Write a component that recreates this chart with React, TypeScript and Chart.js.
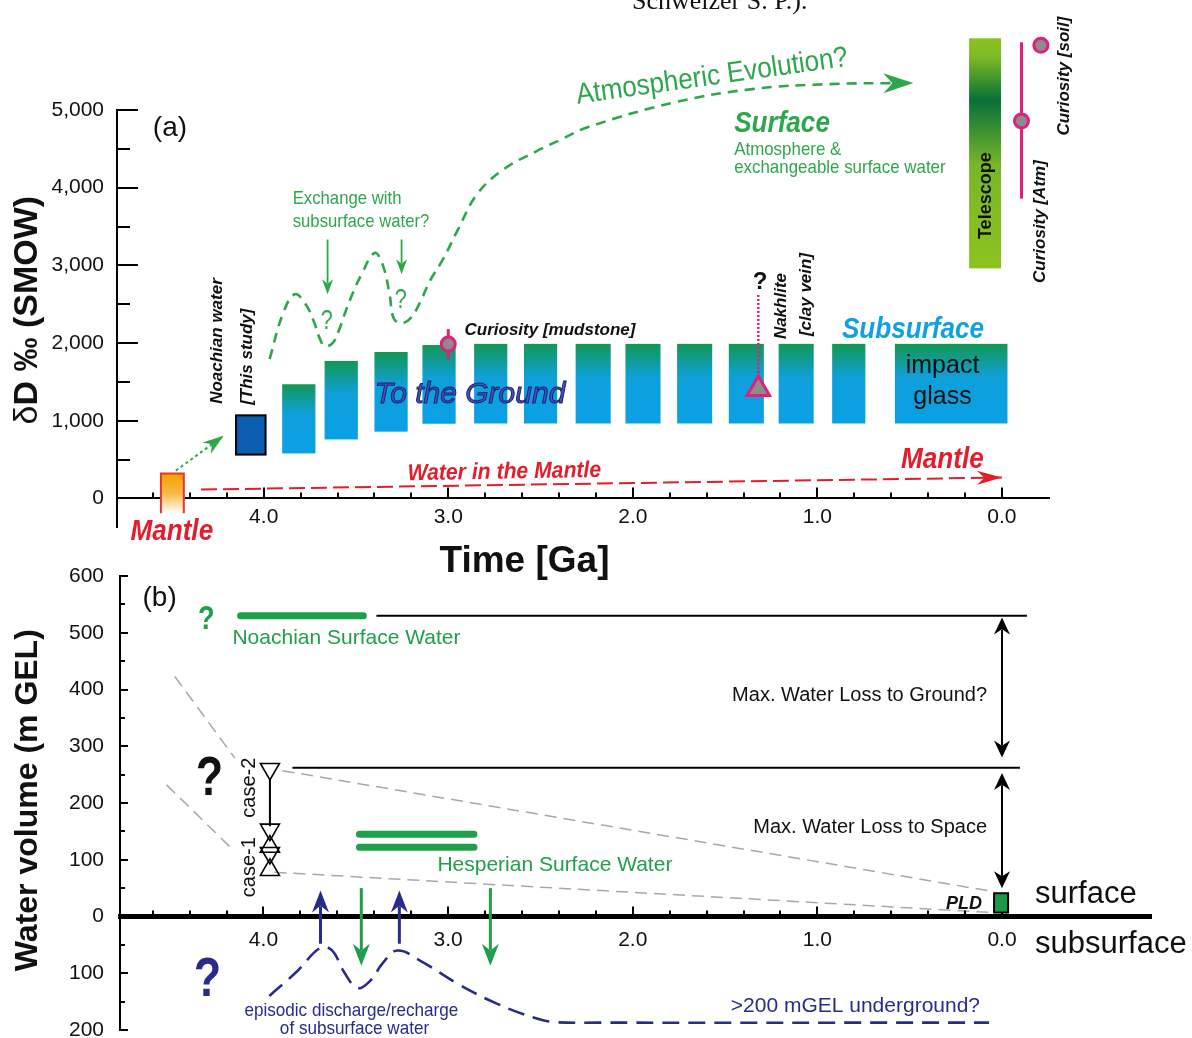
import React, { useEffect, useRef } from "react";
import { Chart, registerables } from "chart.js";

Chart.register(...registerables);

const SANS = "'Liberation Sans', Arial, Helvetica, sans-serif";
const SERIF = "'Liberation Serif', 'Times New Roman', serif";
const fnt = (size: number, weight: string = "normal", style: string = "normal", family: string = SANS) =>
  `${style} ${weight} ${size}px ${family}`;

const CANVAS_W = 1192;
const CANVAS_H = 1100;

const INK = "#111111";
const GREEN_A = "#2ea74c";
const GREEN_B = "#1f9f4a";
const RED = "#e31d2b";
const MAGENTA = "#e0207c";
const GREY_FILL = "#8c8c8c";
const NAVY = "#292b8c";
const SKY = "#12a1e0";
const DASH_GREY = "#a8a8a8";

/* ================= Panel (a): δD (‰ SMOW) versus Time (Ga) ================= */
const aXTicks = [4, 3, 2, 1, 0];
const aYTicks = [0, 1000, 2000, 3000, 4000, 5000];

// Atmospheric evolution (dashed green curve)
const atmEvolGa = [3.968, 3.897, 3.832, 3.773, 3.729, 3.697, 3.67, 3.627, 3.594, 3.556, 3.513, 3.47, 3.4, 3.356, 3.318, 3.296, 3.253, 3.204, 3.15, 3.101, 3.026, 2.945, 2.842, 2.696, 2.528, 2.382, 2.241, 1.765, 1.353, 0.936, 0.48];
const atmEvolDD = [1795, 2372, 2628, 2500, 2282, 2064, 1962, 2000, 2154, 2410, 2667, 2885, 3160, 3013, 2628, 2321, 2256, 2321, 2538, 2795, 3090, 3474, 3923, 4244, 4462, 4628, 4782, 5103, 5269, 5333, 5348];

// Water in the mantle (red dashed arrow)
const mantleWaterGa = [4.34, 0.0];
const mantleWaterDD = [115, 270];

// Subsurface water reservoirs (bars)
const subFromGa = [3.9, 3.67, 3.4, 3.14, 2.86, 2.59, 2.31, 2.04, 1.76, 1.48, 1.21, 0.92, 0.58];
const subToGa = [3.72, 3.49, 3.22, 2.96, 2.68, 2.41, 2.12, 1.85, 1.57, 1.29, 1.02, 0.74, -0.03];
const subTopDD = [1470, 1770, 1885, 1975, 1990, 1990, 1990, 1990, 1990, 1990, 1990, 1990, 1990];
const subBotDD = [580, 760, 860, 962, 965, 965, 965, 965, 965, 965, 965, 965, 965];

// Mantle source, Noachian water (this study), Telescope range
const mantleBoxGa = [4.557, 4.433];
const mantleBoxDD = [-190, 320];
const noachBoxGa = [4.15, 3.99];
const noachBoxDD = [565, 1070];
const telescopeGa = [0.178, 0.005];
const telescopeDD = [2962, 5923];

// Point measurements
const mudstoneGa = 3.0;
const mudstoneDD = 1987;
const mudstoneErrDD = [1795, 2180];
const nakhliteGa = 1.32;
const nakhliteDD = 1410;
const nakhliteUpperDD = 2640;
const curAtmGa = -0.106;
const curAtmDD = 4859;
const curAtmRangeDD = [3859, 5872];
const curSoilGa = -0.211;
const curSoilDD = 5833;

// Arrows
const transferGa = [4.476, 4.217];
const transferDD = [359, 808];
const exchangeGa = [3.654, 3.253];
const exchangeFromDD = [3333, 3333];
const exchangeToDD = [2628, 2885];

/* ================= Panel (b): Water volume (m GEL) versus Time (Ga) ================= */
const bXTicks = [4, 3, 2, 1, 0];
const bYTicks = [-200, -100, 0, 100, 200, 300, 400, 500, 600];

const subsurfGa = [3.968, 3.816, 3.691, 3.627, 3.567, 3.491, 3.421, 3.356, 3.275, 3.15, 2.945, 2.733, 2.528, 2.425, 2.2, 0.07];
const subsurfV = [-140, -96, -55, -60, -96, -126, -113, -83, -60, -78, -119, -154, -179, -186, -187, -187];

const noachSurfGa = [4.124, 3.459];
const noachSurfV = 530;
const hespSurfGa = [3.48, 2.86];
const hespSurfV = [145, 122];

const lossGroundGa = [3.388, -0.135];
const lossGroundV = 530;
const lossSpaceGa = [3.843, -0.097];
const lossSpaceV = 262;

const trendHiOldGa = [4.48, 4.155];
const trendHiOldV = [423, 279];
const trendHiGa = [3.897, 0.049];
const trendHiV = [257, 44];
const trendLoOldGa = [4.525, 4.157];
const trendLoOldV = [232, 115];
const trendLoGa = [3.94, 0.054];
const trendLoV = [78, 7];

const caseGa = 3.965;
const caseLinkV = [241, 159];
const caseDownV = [260, 153, 112];
const caseUpV = [123, 82];

const dischargeGa = [3.691, 3.264];
const dischargeFromV = -48;
const dischargeToV = 46;
const rechargeGa = [3.47, 2.771];
const rechargeFromV = 50;
const rechargeToV = -87;

const maxLossGa = 0.0;
const groundArrowV = [527, 280];
const spaceArrowV = [253, 50];

const pldGa = [0.043, -0.033];
const pldV = [7, 41];

/* ================= helpers ================= */
const pts = (gs: number[], vs: number[]) => gs.map((g, i) => ({ x: g, y: vs[i] }));
const flat = (gs: number[], v: number) => gs.map((g) => ({ x: g, y: v }));
const vert = (g: number, vs: number[]) => vs.map((v) => ({ x: g, y: v }));

type Lbl = {
  t: string; g: number; v: number; font: string; color?: string;
  align?: CanvasTextAlign; base?: CanvasTextBaseline; rot?: number; sx?: number; outline?: string;
};

function drawLabel(ctx: CanvasRenderingContext2D, xs: any, ys: any, l: Lbl) {
  ctx.save();
  ctx.translate(xs.getPixelForValue(l.g), ys.getPixelForValue(l.v));
  if (l.rot) ctx.rotate((l.rot * Math.PI) / 180);
  if (l.sx) ctx.scale(l.sx, 1);
  ctx.font = l.font;
  ctx.fillStyle = l.color || INK;
  ctx.textAlign = l.align || "left";
  ctx.textBaseline = l.base || "alphabetic";
  ctx.fillText(l.t, 0, 0);
  if (l.outline) {
    ctx.strokeStyle = l.outline;
    ctx.lineWidth = 1;
    ctx.strokeText(l.t, 0, 0);
  }
  ctx.restore();
}

function arrowHead(ctx: CanvasRenderingContext2D, tx: number, ty: number, fx: number, fy: number, len: number, wid: number, color: string) {
  const a = Math.atan2(ty - fy, tx - fx);
  ctx.save();
  ctx.translate(tx, ty);
  ctx.rotate(a);
  ctx.beginPath();
  ctx.moveTo(0, 0);
  ctx.lineTo(-len, -wid / 2);
  ctx.lineTo(-len * 0.7, 0);
  ctx.lineTo(-len, wid / 2);
  ctx.closePath();
  ctx.fillStyle = color;
  ctx.fill();
  ctx.restore();
}

function arrowLine(ctx: CanvasRenderingContext2D, x0: number, y0: number, x1: number, y1: number, color: string, width: number, len: number, wid: number, both = false) {
  const a = Math.atan2(y1 - y0, x1 - x0);
  const inset = len * 0.72;
  const sx = both ? x0 + Math.cos(a) * inset : x0;
  const sy = both ? y0 + Math.sin(a) * inset : y0;
  const ex = x1 - Math.cos(a) * inset;
  const ey = y1 - Math.sin(a) * inset;
  ctx.save();
  ctx.strokeStyle = color;
  ctx.lineWidth = width;
  ctx.setLineDash([]);
  ctx.beginPath();
  ctx.moveTo(sx, sy);
  ctx.lineTo(ex, ey);
  ctx.stroke();
  ctx.restore();
  arrowHead(ctx, x1, y1, x0, y0, len, wid, color);
  if (both) arrowHead(ctx, x0, y0, x1, y1, len, wid, color);
}

function seg(ctx: CanvasRenderingContext2D, x0: number, y0: number, x1: number, y1: number) {
  ctx.beginPath();
  ctx.moveTo(x0, y0);
  ctx.lineTo(x1, y1);
  ctx.stroke();
}

/* ================= annotation text ================= */
const labelsA: Lbl[] = [
  { t: "(a)", g: 4.601, v: 4667, font: fnt(28) },
  { t: "Exchange with", g: 3.843, v: 3795, font: fnt(19), color: GREEN_A, sx: 0.88 },
  { t: "subsurface water?", g: 3.843, v: 3490, font: fnt(19), color: GREEN_A, sx: 0.88 },
  { t: "?", g: 3.659, v: 2179, font: fnt(27), color: GREEN_A, align: "center", sx: 0.8 },
  { t: "?", g: 3.258, v: 2449, font: fnt(27), color: GREEN_A, align: "center", sx: 0.8 },
  { t: "Atmospheric Evolution?", g: 2.3, v: 5080, font: fnt(29), color: GREEN_A, rot: -8, sx: 0.9 },
  { t: "Surface", g: 1.451, v: 4718, font: fnt(29, "bold", "italic"), color: GREEN_A, sx: 0.9 },
  { t: "Atmosphere &", g: 1.451, v: 4423, font: fnt(19), color: GREEN_A, sx: 0.89 },
  { t: "exchangeable surface water", g: 1.451, v: 4192, font: fnt(19), color: GREEN_A, sx: 0.89 },
  { t: "Telescope", g: 0.087, v: 3897, font: fnt(18, "bold"), align: "center", base: "middle", rot: -90 },
  { t: "Curiosity [Atm]", g: -0.208, v: 3564, font: fnt(17, "bold", "italic"), align: "center", base: "middle", rot: -90 },
  { t: "Curiosity [soil]", g: -0.336, v: 5436, font: fnt(17, "bold", "italic"), align: "center", base: "middle", rot: -90 },
  { t: "Noachian water", g: 4.254, v: 1218, font: fnt(17, "bold", "italic"), align: "left", base: "middle", rot: -90 },
  { t: "[This study]", g: 4.087, v: 1205, font: fnt(17, "bold", "italic"), align: "left", base: "middle", rot: -90 },
  { t: "Curiosity [mudstone]", g: 2.912, v: 2103, font: fnt(17, "bold", "italic") },
  { t: "?", g: 1.31, v: 2692, font: fnt(24, "bold"), align: "center" },
  { t: "Nakhlite", g: 1.193, v: 2051, font: fnt(17, "bold", "italic"), align: "left", base: "middle", rot: -90 },
  { t: "[clay vein]", g: 1.058, v: 2090, font: fnt(17, "bold", "italic"), align: "left", base: "middle", rot: -90 },
  { t: "Subsurface", g: 0.482, v: 2064, font: fnt(29, "bold", "italic"), color: SKY, align: "center", sx: 0.9 },
  { t: "impact", g: 0.322, v: 1615, font: fnt(25), align: "center" },
  { t: "glass", g: 0.322, v: 1218, font: fnt(25), align: "center" },
  { t: "To the Ground", g: 3.399, v: 1231, font: fnt(30, "normal", "italic"), color: "#4253bd", outline: "#1b2170" },
  { t: "Water in the Mantle", g: 3.22, v: 235, font: fnt(23, "bold", "italic"), color: RED, sx: 0.92, rot: -1 },
  { t: "Mantle", g: 0.547, v: 397, font: fnt(29, "bold", "italic"), color: RED, sx: 0.9 },
  { t: "Mantle", g: 4.498, v: -538, font: fnt(29, "bold", "italic"), color: RED, align: "center", sx: 0.9 },
  { t: "Time [Ga]", g: 2.587, v: -949, font: fnt(37, "bold"), align: "center" },
];

const labelsB: Lbl[] = [
  { t: "(b)", g: 4.655, v: 547, font: fnt(28) },
  { t: "?", g: 4.309, v: 506, font: fnt(34, "bold"), color: GREEN_B, align: "center", sx: 0.8 },
  { t: "Noachian Surface Water", g: 4.168, v: 481, font: fnt(21), color: GREEN_B },
  { t: "Hesperian Surface Water", g: 3.058, v: 80, font: fnt(21), color: GREEN_B },
  { t: "Max. Water Loss to Ground?", g: 0.081, v: 380, font: fnt(20), align: "right" },
  { t: "Max. Water Loss to Space", g: 0.081, v: 147, font: fnt(20), align: "right" },
  { t: "?", g: 4.292, v: 214, font: fnt(56, "bold"), align: "center", sx: 0.8 },
  { t: "?", g: 4.303, v: -140, font: fnt(56, "bold"), color: NAVY, align: "center", sx: 0.8 },
  { t: "case-2", g: 4.076, v: 227, font: fnt(20), align: "center", base: "middle", rot: -90 },
  { t: "case-1", g: 4.076, v: 87, font: fnt(20), align: "center", base: "middle", rot: -90 },
  { t: "episodic discharge/recharge", g: 3.524, v: -175, font: fnt(19), color: NAVY, align: "center", sx: 0.9 },
  { t: "of subsurface water", g: 3.507, v: -207, font: fnt(19), color: NAVY, align: "center", sx: 0.9 },
  { t: ">200 mGEL underground?", g: 0.119, v: -168, font: fnt(21), color: NAVY, align: "right" },
  { t: "PLD", g: 0.108, v: 14, font: fnt(18, "bold", "italic"), align: "right" },
  { t: "surface", g: -0.179, v: 23, font: fnt(31) },
  { t: "subsurface", g: -0.179, v: -65, font: fnt(31) },
];

/* ================= plugins ================= */
const panelAPlugin = {
  id: "panelA",
  beforeDatasetsDraw(chart: any) {
    const ctx: CanvasRenderingContext2D = chart.ctx;
    const xs = chart.scales.x;
    const ys = chart.scales.y;
    const X = (g: number) => xs.getPixelForValue(g);
    const Y = (v: number) => ys.getPixelForValue(v);
    const area = chart.chartArea;
    ctx.save();
    // y axis line (from 5,000 down to the bottom of the plot)
    ctx.strokeStyle = "#000";
    ctx.lineWidth = 2;
    seg(ctx, area.left, Y(aYTicks[aYTicks.length - 1]) - 1, area.left, area.bottom);
    // subsurface reservoirs
    for (let i = 0; i < subFromGa.length; i++) {
      const x0 = X(subFromGa[i]);
      const x1 = X(subToGa[i]);
      const y0 = Y(subTopDD[i]);
      const y1 = Y(subBotDD[i]);
      const gr = ctx.createLinearGradient(0, y0, 0, y1);
      gr.addColorStop(0, "#139752");
      gr.addColorStop(0.42, "#0fa0da");
      gr.addColorStop(1, "#0aa0e6");
      ctx.fillStyle = gr;
      ctx.fillRect(x0, y0, x1 - x0, y1 - y0);
    }
    // mantle source box
    {
      const x0 = X(mantleBoxGa[0]);
      const x1 = X(mantleBoxGa[1]);
      const y0 = Y(mantleBoxDD[1]);
      const y1 = Y(mantleBoxDD[0]);
      const gr = ctx.createLinearGradient(0, y0, 0, y1);
      gr.addColorStop(0, "#f5a200");
      gr.addColorStop(0.5, "#f7b846");
      gr.addColorStop(1, "#ffffff");
      ctx.fillStyle = gr;
      ctx.fillRect(x0, y0, x1 - x0, y1 - y0);
      ctx.strokeStyle = "#e2382a";
      ctx.lineWidth = 2;
      ctx.beginPath();
      ctx.moveTo(x0, y1);
      ctx.lineTo(x0, y0);
      ctx.lineTo(x1, y0);
      ctx.lineTo(x1, y1);
      ctx.stroke();
    }
    // Noachian water box
    {
      const x0 = X(noachBoxGa[0]);
      const x1 = X(noachBoxGa[1]);
      const y0 = Y(noachBoxDD[1]);
      const y1 = Y(noachBoxDD[0]);
      ctx.fillStyle = "#0b5eb0";
      ctx.fillRect(x0, y0, x1 - x0, y1 - y0);
      ctx.strokeStyle = "#000";
      ctx.lineWidth = 2;
      ctx.strokeRect(x0, y0, x1 - x0, y1 - y0);
    }
    // Telescope
    {
      const x0 = X(telescopeGa[0]);
      const x1 = X(telescopeGa[1]);
      const y0 = Y(telescopeDD[1]);
      const y1 = Y(telescopeDD[0]);
      const gr = ctx.createLinearGradient(0, y0, 0, y1);
      gr.addColorStop(0, "#8dc21f");
      gr.addColorStop(0.08, "#7eba24");
      gr.addColorStop(0.27, "#07703a");
      gr.addColorStop(0.55, "#78b62a");
      gr.addColorStop(1, "#8dc21f");
      ctx.fillStyle = gr;
      ctx.fillRect(x0, y0, x1 - x0, y1 - y0);
    }
    ctx.restore();
  },
  afterDatasetsDraw(chart: any) {
    const ctx: CanvasRenderingContext2D = chart.ctx;
    const area = chart.chartArea;
    const xs = chart.scales.x;
    const ys = chart.scales.y;
    const X = (g: number) => xs.getPixelForValue(g);
    const Y = (v: number) => ys.getPixelForValue(v);
    ctx.save();
    // inward tick marks
    ctx.strokeStyle = "#000";
    ctx.lineWidth = 2;
    for (let k = 0; k <= 10; k++) {
      const py = Math.round(Y(k * 500));
      seg(ctx, area.left, py, area.left + (k % 2 === 0 ? 21 : 13), py);
    }
    const y0 = Y(0);
    for (let k = 0; k <= 23; k++) {
      const px = Math.round(X(k * 0.2));
      seg(ctx, px, y0, px, y0 - (k % 5 === 0 ? 11 : 6));
    }
    // arrows
    for (let i = 0; i < exchangeGa.length; i++) {
      arrowLine(ctx, X(exchangeGa[i]), Y(exchangeFromDD[i]), X(exchangeGa[i]), Y(exchangeToDD[i]), GREEN_A, 1.8, 15, 11);
    }
    arrowHead(ctx, X(transferGa[1]), Y(transferDD[1]), X(transferGa[0]), Y(transferDD[0]), 21, 14, GREEN_A);
    const n = atmEvolGa.length;
    arrowHead(ctx, X(atmEvolGa[n - 1]), Y(atmEvolDD[n - 1]), X(atmEvolGa[n - 2]), Y(atmEvolDD[n - 2]), 30, 20, GREEN_A);
    arrowHead(ctx, X(mantleWaterGa[1]), Y(mantleWaterDD[1]), X(mantleWaterGa[0]), Y(mantleWaterDD[0]), 25, 14, RED);
    // labels
    for (const l of labelsA) drawLabel(ctx, xs, ys, l);
    // y axis title
    ctx.save();
    ctx.translate(area.left - 89, Y(2423));
    ctx.rotate(-Math.PI / 2);
    ctx.textBaseline = "middle";
    ctx.textAlign = "left";
    ctx.fillStyle = INK;
    ctx.font = fnt(34);
    const w1 = ctx.measureText("δ").width;
    ctx.font = fnt(34, "bold");
    const w2 = ctx.measureText("D ‰ (SMOW)").width;
    const st = -(w1 + w2) / 2;
    ctx.font = fnt(34);
    ctx.fillText("δ", st, 0);
    ctx.font = fnt(34, "bold");
    ctx.fillText("D ‰ (SMOW)", st + w1, 0);
    ctx.restore();
    // cut-off caption at the very top of the page
    ctx.font = fnt(26, "normal", "normal", SERIF);
    ctx.fillStyle = INK;
    ctx.textAlign = "left";
    ctx.textBaseline = "alphabetic";
    ctx.fillText("Schweizer S. P.).", 632, 9);
    ctx.restore();
  },
};

const panelBPlugin = {
  id: "panelB",
  afterDatasetsDraw(chart: any) {
    const ctx: CanvasRenderingContext2D = chart.ctx;
    const area = chart.chartArea;
    const xs = chart.scales.x;
    const ys = chart.scales.y;
    const X = (g: number) => xs.getPixelForValue(g);
    const Y = (v: number) => ys.getPixelForValue(v);
    ctx.save();
    ctx.strokeStyle = "#000";
    ctx.lineWidth = 2;
    for (let k = 0; k <= 16; k++) {
      const v = -200 + k * 50;
      const py = Math.round(Y(v));
      seg(ctx, area.left, py, area.left + (v % 100 === 0 ? 8 : 5), py);
    }
    const y0 = Y(0);
    for (let k = 0; k <= 23; k++) {
      const px = Math.round(X(k * 0.2));
      seg(ctx, px, y0, px, y0 - (k % 5 === 0 ? 10 : 6));
    }
    // discharge / recharge arrows
    for (const g of dischargeGa) arrowLine(ctx, X(g), Y(dischargeFromV), X(g), Y(dischargeToV), NAVY, 3, 22, 17);
    for (const g of rechargeGa) arrowLine(ctx, X(g), Y(rechargeFromV), X(g), Y(rechargeToV), GREEN_B, 3, 22, 17);
    // max loss double arrows
    arrowLine(ctx, X(maxLossGa), Y(groundArrowV[0]), X(maxLossGa), Y(groundArrowV[1]), "#000", 2, 17, 16, true);
    arrowLine(ctx, X(maxLossGa), Y(spaceArrowV[0]), X(maxLossGa), Y(spaceArrowV[1]), "#000", 2, 17, 16, true);
    // PLD box
    {
      const x0 = X(pldGa[0]);
      const x1 = X(pldGa[1]);
      const yt = Y(pldV[1]);
      const yb = Y(pldV[0]);
      ctx.fillStyle = "#1a9a45";
      ctx.fillRect(x0, yt, x1 - x0, yb - yt);
      ctx.strokeStyle = "#000";
      ctx.lineWidth = 2;
      ctx.strokeRect(x0, yt, x1 - x0, yb - yt);
    }
    for (const l of labelsB) drawLabel(ctx, xs, ys, l);
    // y axis title
    ctx.save();
    ctx.translate(area.left - 92, Y(205));
    ctx.rotate(-Math.PI / 2);
    ctx.textAlign = "center";
    ctx.textBaseline = "middle";
    ctx.fillStyle = INK;
    ctx.font = fnt(32, "bold");
    ctx.fillText("Water volume (m GEL)", 0, 0);
    ctx.restore();
    ctx.restore();
  },
};

/* ================= chart configs ================= */
const lineDs = (data: any[], color: string, width: number, dash: number[] = [], extra: any = {}) => ({
  data,
  borderColor: color,
  borderWidth: width,
  borderDash: dash,
  pointRadius: 0,
  fill: false,
  clip: false,
  ...extra,
});

function configA(): any {
  return {
    type: "line",
    data: {
      datasets: [
        {
          data: [{ x: mudstoneGa, y: mudstoneDD }, { x: curAtmGa, y: curAtmDD }, { x: curSoilGa, y: curSoilDD }],
          showLine: false, pointStyle: "circle", pointRadius: 7, pointBorderWidth: 3,
          pointBorderColor: MAGENTA, pointBackgroundColor: GREY_FILL, clip: false, order: 0,
        },
        {
          data: [{ x: nakhliteGa, y: nakhliteDD }],
          showLine: false, pointStyle: "triangle", pointRadius: 13, pointBorderWidth: 3,
          pointBorderColor: MAGENTA, pointBackgroundColor: GREY_FILL, clip: false, order: 0,
        },
        lineDs(vert(mudstoneGa, mudstoneErrDD), MAGENTA, 3, [], { order: 1 }),
        lineDs(vert(curAtmGa, curAtmRangeDD), MAGENTA, 3, [], { order: 1 }),
        lineDs(vert(nakhliteGa, [nakhliteDD, nakhliteUpperDD]), MAGENTA, 2.5, [2, 2], { order: 1 }),
        lineDs(pts(atmEvolGa, atmEvolDD), GREEN_A, 2.6, [10, 7], { tension: 0.4, order: 2 }),
        lineDs(pts(mantleWaterGa, mantleWaterDD), RED, 2, [16, 6], { order: 2 }),
        lineDs(pts(transferGa, transferDD), GREEN_A, 2, [3, 3], { order: 2 }),
      ],
    },
    options: {
      responsive: false,
      maintainAspectRatio: false,
      animation: false,
      events: [],
      layout: { autoPadding: false, padding: { top: 26, bottom: CANVAS_H - 528, left: 0, right: CANVAS_W - 1049 } },
      plugins: { legend: { display: false }, tooltip: { enabled: false } },
      scales: {
        x: {
          type: "linear", axis: "x", reverse: true, min: -0.255, max: 4.795,
          position: { y: 0 },
          grid: { display: false, drawTicks: false },
          border: { display: true, color: "#000", width: 2 },
          afterBuildTicks: (s: any) => { s.ticks = aXTicks.map((v) => ({ value: v })); },
          ticks: {
            callback: (v: any) => Number(v).toFixed(1),
            font: { size: 21, family: SANS }, color: INK, padding: 6, maxRotation: 0, autoSkip: false,
          },
        },
        y: {
          type: "linear", position: "left", min: -380, max: 6081,
          grid: { display: false, drawTicks: false },
          border: { display: false },
          afterBuildTicks: (s: any) => { s.ticks = aYTicks.map((v) => ({ value: v })); },
          afterFit: (s: any) => { s.width = 117; },
          ticks: {
            callback: (v: any) => Number(v).toLocaleString("en-US"),
            font: { size: 21, family: SANS }, color: INK, padding: 13,
          },
        },
      },
    },
    plugins: [panelAPlugin],
  };
}

function configB(): any {
  return {
    type: "line",
    data: {
      datasets: [
        {
          data: vert(caseGa, caseUpV), showLine: false, pointStyle: "triangle", pointRotation: 0,
          pointRadius: 11, pointBorderWidth: 1.6, pointBorderColor: "#000", pointBackgroundColor: "rgba(255,255,255,0)",
          clip: false, order: 0,
        },
        {
          data: vert(caseGa, caseDownV), showLine: false, pointStyle: "triangle", pointRotation: 180,
          pointRadius: 11, pointBorderWidth: 1.6, pointBorderColor: "#000", pointBackgroundColor: "rgba(255,255,255,0)",
          clip: false, order: 0,
        },
        lineDs(vert(caseGa, caseLinkV), "#000", 2, [], { order: 1 }),
        lineDs(flat(noachSurfGa, noachSurfV), GREEN_B, 7, [], { borderCapStyle: "round", order: 1 }),
        lineDs(flat(hespSurfGa, hespSurfV[0]), GREEN_B, 7, [], { borderCapStyle: "round", order: 1 }),
        lineDs(flat(hespSurfGa, hespSurfV[1]), GREEN_B, 7, [], { borderCapStyle: "round", order: 1 }),
        lineDs(flat(lossGroundGa, lossGroundV), "#000", 2, [], { order: 2 }),
        lineDs(flat(lossSpaceGa, lossSpaceV), "#000", 2, [], { order: 2 }),
        lineDs(pts(subsurfGa, subsurfV), NAVY, 2.6, [17, 9], { tension: 0.4, order: 3 }),
        lineDs(pts(trendHiOldGa, trendHiOldV), DASH_GREY, 1.5, [12, 7], { order: 4 }),
        lineDs(pts(trendHiGa, trendHiV), DASH_GREY, 1.5, [12, 7], { order: 4 }),
        lineDs(pts(trendLoOldGa, trendLoOldV), DASH_GREY, 1.5, [12, 7], { order: 4 }),
        lineDs(pts(trendLoGa, trendLoV), DASH_GREY, 1.5, [12, 7], { order: 4 }),
      ],
    },
    options: {
      responsive: false,
      maintainAspectRatio: false,
      animation: false,
      events: [],
      layout: { autoPadding: false, padding: { top: 576, bottom: CANVAS_H - 1030, left: 0, right: CANVAS_W - 1151 } },
      plugins: { legend: { display: false }, tooltip: { enabled: false } },
      scales: {
        x: {
          type: "linear", axis: "x", reverse: true, min: -0.807, max: 4.777,
          position: { y: 0 },
          grid: { display: false, drawTicks: false },
          border: { display: true, color: "#000", width: 5 },
          afterBuildTicks: (s: any) => { s.ticks = bXTicks.map((v) => ({ value: v })); },
          ticks: {
            callback: (v: any) => Number(v).toFixed(1),
            font: { size: 21, family: SANS }, color: INK, padding: 11, maxRotation: 0, autoSkip: false,
          },
        },
        y: {
          type: "linear", position: "left", min: -200, max: 600,
          grid: { display: false, drawTicks: false },
          border: { display: true, color: "#000", width: 2 },
          afterBuildTicks: (s: any) => { s.ticks = bYTicks.map((v) => ({ value: v })); },
          afterFit: (s: any) => { s.width = 120; },
          ticks: {
            callback: (v: any) => String(Math.abs(Number(v))),
            font: { size: 21, family: SANS }, color: INK, padding: 16,
          },
        },
      },
    },
    plugins: [panelBPlugin],
  };
}

export default function App() {
  const refA = useRef<HTMLCanvasElement>(null);
  const refB = useRef<HTMLCanvasElement>(null);
  useEffect(() => {
    Chart.defaults.font.family = SANS;
    const a = new Chart(refA.current as HTMLCanvasElement, configA());
    const b = new Chart(refB.current as HTMLCanvasElement, configB());
    return () => {
      a.destroy();
      b.destroy();
    };
  }, []);
  return (
    <div style={{ position: "absolute", left: 0, top: 0, width: 1192, height: 1038, background: "#ffffff", overflow: "hidden" }}>
      <canvas ref={refA} width={CANVAS_W} height={CANVAS_H} style={{ position: "absolute", left: 0, top: 0 }} />
      <canvas ref={refB} width={CANVAS_W} height={CANVAS_H} style={{ position: "absolute", left: 0, top: 0 }} />
    </div>
  );
}
